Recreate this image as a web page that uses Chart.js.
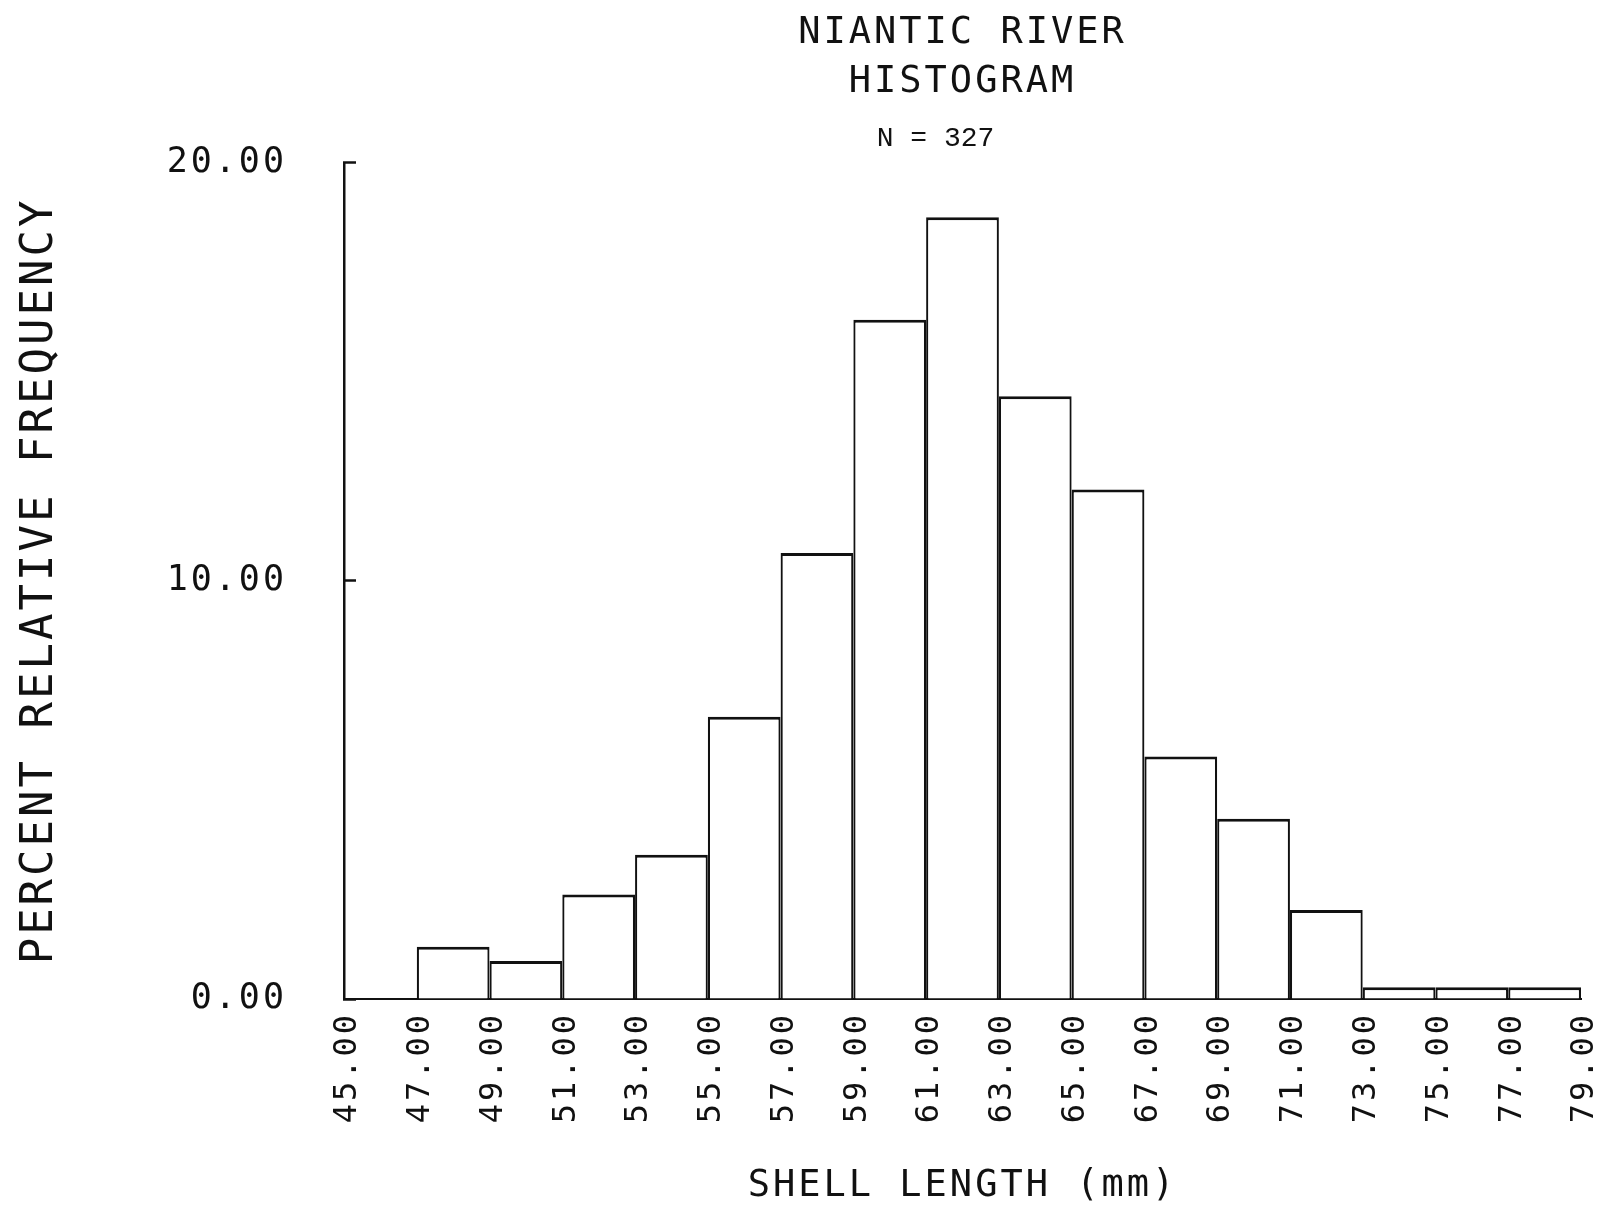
<!DOCTYPE html>
<html>
<head>
<meta charset="utf-8">
<title>Niantic River Histogram</title>
<script src="https://cdn.jsdelivr.net/npm/chart.js@4/dist/chart.umd.min.js"></script>
<style>
  html, body { margin: 0; padding: 0; background: #fff; }
  canvas { display: block; }
</style>
</head>
<body>
<canvas id="hist" width="1601" height="1232"></canvas>
<script>
// Shell length bins (mm): each bar covers [start, start + binWidth)
const binStart = [45, 47, 49, 51, 53, 55, 57, 59, 61, 63, 65, 67, 69, 71, 73, 75, 77];
const binWidth = 2;
// Percent of the 327 measured shells falling in each bin
const percent = [0.00, 1.25, 0.91, 2.50, 3.45, 6.75, 10.67, 16.25, 18.70, 14.42, 12.19, 5.80, 4.31, 2.13, 0.28, 0.28, 0.28];

// Axis tick settings
const xTickMin = 45;
const xTickMax = 79;
const xTickStep = 2;
const yTickMin = 0;
const yTickMax = 20;
const yTickStep = 10;

const titleLines = ['NIANTIC RIVER', 'HISTOGRAM'];
const subtitleText = 'N = 327';
const yAxisTitle = 'PERCENT RELATIVE FREQUENCY';
const xAxisTitle = 'SHELL LENGTH (mm)';

const ink = '#111';
const penFont = "'DejaVu Sans Mono', 'Liberation Mono', monospace";

const barPoints = binStart.map((s, i) => ({ x: s + binWidth / 2, y: percent[i] }));

// Plotter-style lettering: wide spacing everywhere except the typed sample size line
const plotterPen = {
  id: 'plotterPen',
  beforeDraw(chart) {
    chart.ctx.letterSpacing = '3px';
  },
  afterLayout(chart) {
    chart.boxes.forEach(box => {
      if (box.options && box.options.text === subtitleText && !box.__typed) {
        const draw = box.draw;
        box.draw = function (...args) {
          const ctx = this.ctx;
          ctx.save();
          ctx.letterSpacing = '0px';
          ctx.translate(-27, 0);
          draw.apply(this, args);
          ctx.restore();
        };
        box.__typed = true;
      }
    });
  }
};

new Chart(document.getElementById('hist'), {
  type: 'bar',
  data: {
    datasets: [{
      data: barPoints,
      backgroundColor: '#fff',
      borderColor: ink,
      borderWidth: { top: 3, left: 2.2, right: 2.2, bottom: 0 },
      borderSkipped: 'start',
      inflateAmount: 0,
      barPercentage: 1,
      categoryPercentage: 1
    }]
  },
  options: {
    responsive: false,
    devicePixelRatio: 1,
    animation: false,
    layout: { padding: { top: 0, right: 20, bottom: 0, left: 0 } },
    plugins: {
      legend: { display: false },
      tooltip: { enabled: false },
      title: {
        display: true,
        text: titleLines,
        fullSize: false,
        color: ink,
        font: { family: penFont, size: 37, weight: 'normal', lineHeight: 1.324 },
        padding: { top: 8.5, bottom: 0 }
      },
      subtitle: {
        display: true,
        text: subtitleText,
        fullSize: false,
        color: ink,
        font: { family: "'Liberation Mono', 'Courier New', monospace", size: 28, weight: 'normal', lineHeight: 1.2 },
        padding: { top: 15.5, bottom: 7.4 }
      }
    },
    scales: {
      x: {
        type: 'linear',
        position: 'bottom',
        min: xTickMin,
        max: xTickMax,
        offset: false,
        z: 1,
        grid: { display: false },
        border: { display: true, color: ink, width: 2 },
        ticks: {
          stepSize: xTickStep,
          autoSkip: false,
          minRotation: 90,
          maxRotation: 90,
          padding: 5,
          labelOffset: 4,
          color: ink,
          font: { family: penFont, size: 32 },
          callback: v => Number(v).toFixed(2)
        },
        title: {
          display: true,
          text: xAxisTitle,
          color: ink,
          font: { family: penFont, size: 37, lineHeight: 1.2 },
          padding: { top: 0, bottom: 23 }
        },
        afterFit(scale) {
          scale.height = 233;
          scale.paddingLeft = 0;
          scale.paddingRight = 0;
        }
      },
      y: {
        type: 'linear',
        position: 'left',
        min: yTickMin,
        max: yTickMax,
        grid: {
          display: true,
          drawOnChartArea: false,
          drawTicks: true,
          tickLength: -12,
          tickWidth: 2.5,
          tickColor: ink
        },
        border: { display: true, color: ink, width: 2.5 },
        ticks: {
          stepSize: yTickStep,
          padding: 69,
          color: ink,
          font: { family: penFont, size: 35 },
          callback: v => Number(v).toFixed(2)
        },
        title: {
          display: true,
          text: yAxisTitle,
          color: ink,
          font: { family: penFont, size: 44, lineHeight: 1.2 },
          padding: { top: 14, bottom: 0 }
        },
        afterFit(scale) { scale.width = 344; }
      }
    }
  },
  plugins: [plotterPen]
});
</script>
</body>
</html>
